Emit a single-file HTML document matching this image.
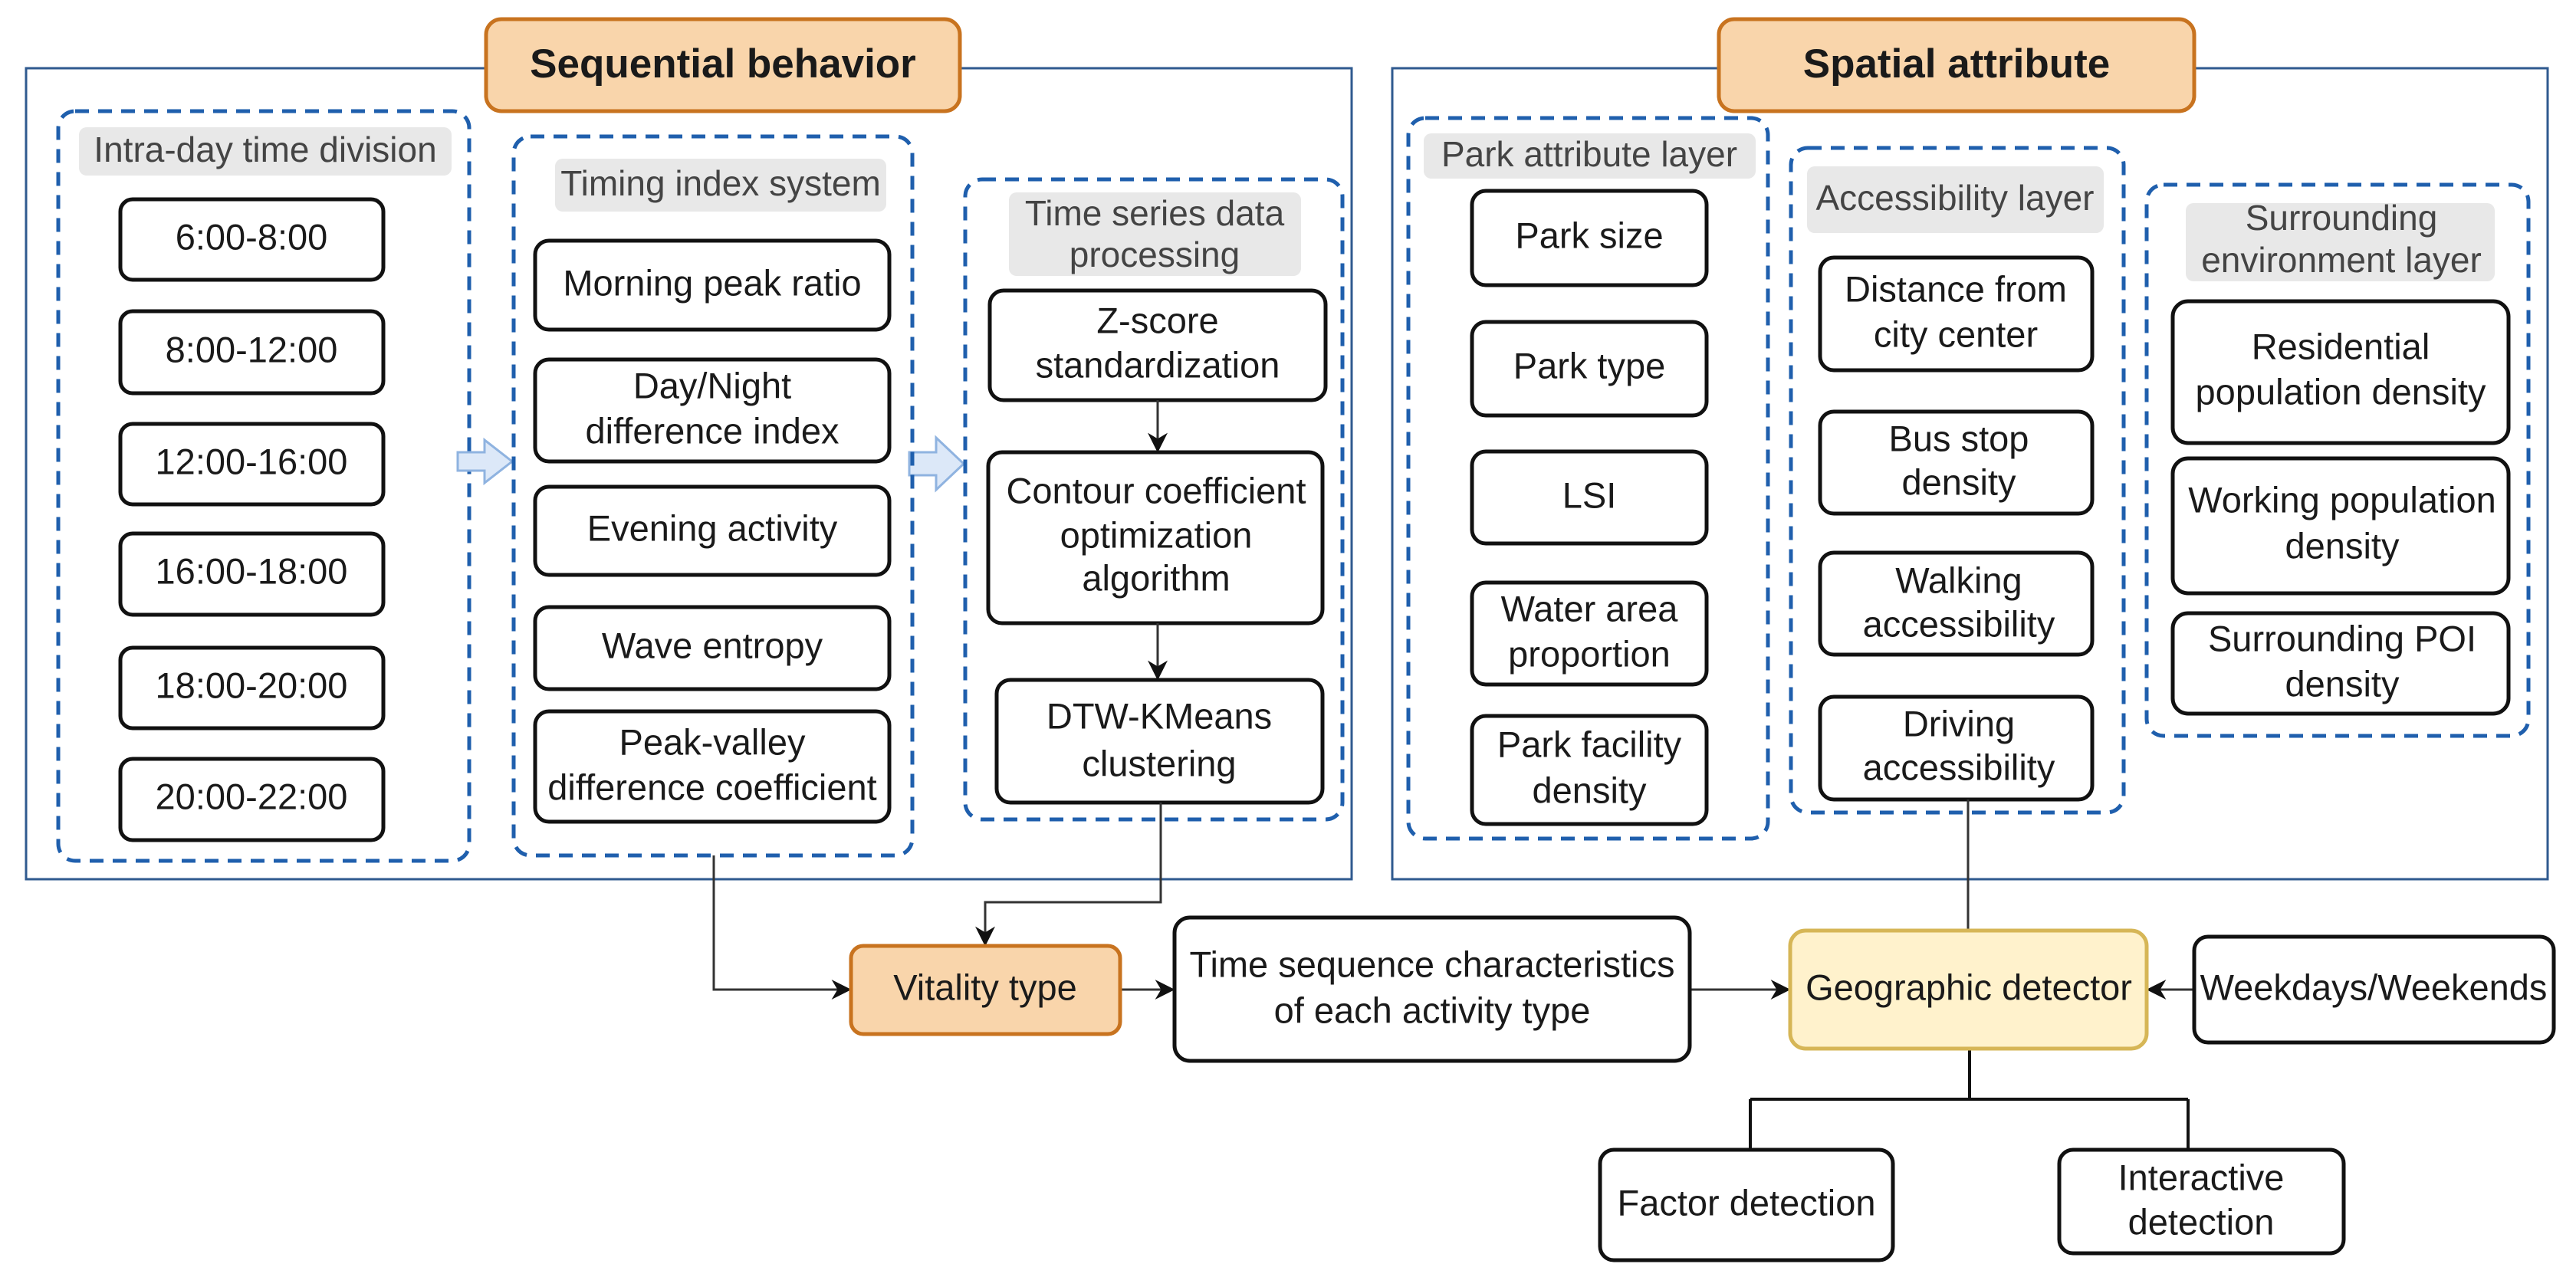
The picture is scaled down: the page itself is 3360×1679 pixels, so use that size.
<!DOCTYPE html>
<html><head><meta charset="utf-8"><style>
html,body{margin:0;padding:0;background:#fff}
svg{display:block}
text{font-family:"Liberation Sans",Arial,sans-serif;font-size:47px;fill:#1a1a1a;text-anchor:middle;dominant-baseline:middle}
.lab{fill:#444;font-size:46px}
.b{fill:#fff;stroke:#111;stroke-width:5}
.g{fill:none;stroke:#1f5fad;stroke-width:5;stroke-dasharray:18 12}
.gl{fill:#e8e8e8}
.ln{fill:none;stroke:#333;stroke-width:3}
</style></head><body>
<svg width="3360" height="1679" viewBox="0 0 3360 1679" xmlns="http://www.w3.org/2000/svg">
<defs>
<marker id="A" viewBox="0 0 10 10" refX="9" refY="5" markerWidth="26" markerHeight="26" orient="auto" markerUnits="userSpaceOnUse"><path d="M0,0 L10,5 L0,10 L3,5 z" fill="#111"/></marker></defs>
<!-- main boxes -->
<rect x="34" y="89" width="1729" height="1058" fill="none" stroke="#2f5a8f" stroke-width="3"/>
<rect x="1816" y="89" width="1507" height="1058" fill="none" stroke="#2f5a8f" stroke-width="3"/>
<rect x="634" y="25" width="618" height="120" rx="20" fill="#f9d5ab" stroke="#c8731f" stroke-width="5"/>
<text x="943" y="87" style="font-weight:bold;font-size:53px">Sequential behavior</text>
<rect x="2242" y="25" width="620" height="120" rx="20" fill="#f9d5ab" stroke="#c8731f" stroke-width="5"/>
<text x="2552" y="87" style="font-weight:bold;font-size:53px">Spatial attribute</text>
<!-- group 1 -->
<rect class="g" x="76" y="145" width="536" height="978" rx="22"/>
<rect class="gl" x="103" y="166" width="486" height="63" rx="10"/>
<text class="lab" x="346" y="199">Intra-day time division</text>
<rect class="b" x="157" y="260" width="343" height="105" rx="16"/><text x="328" y="313">6:00-8:00</text>
<rect class="b" x="157" y="406" width="343" height="107" rx="16"/><text x="328" y="460">8:00-12:00</text>
<rect class="b" x="157" y="553" width="343" height="105" rx="16"/><text x="328" y="606">12:00-16:00</text>
<rect class="b" x="157" y="696" width="343" height="106" rx="16"/><text x="328" y="749">16:00-18:00</text>
<rect class="b" x="157" y="845" width="343" height="105" rx="16"/><text x="328" y="898">18:00-20:00</text>
<rect class="b" x="157" y="990" width="343" height="106" rx="16"/><text x="328" y="1043">20:00-22:00</text>
<!-- hollow arrows -->
<path d="M597,590 h35 v-16 l36,28 l-36,28 v-16 h-35 z" fill="#dce8f8" stroke="#8fb3e0" stroke-width="3"/>
<path d="M1186,590 h35 v-19 l36,34 l-36,34 v-19 h-35 z" fill="#dce8f8" stroke="#8fb3e0" stroke-width="3"/>
<!-- group 2 -->
<rect class="g" x="670" y="178" width="520" height="938" rx="22"/>
<rect class="gl" x="724" y="207" width="432" height="69" rx="10"/>
<text class="lab" x="940" y="243">Timing index system</text>
<rect class="b" x="698" y="314" width="462" height="116" rx="18"/><text x="929" y="373">Morning peak ratio</text>
<rect class="b" x="698" y="469" width="462" height="133" rx="18"/><text x="929" y="507">Day/Night</text><text x="929" y="566">difference index</text>
<rect class="b" x="698" y="635" width="462" height="115" rx="18"/><text x="929" y="693">Evening activity</text>
<rect class="b" x="698" y="792" width="462" height="107" rx="18"/><text x="929" y="846">Wave entropy</text>
<rect class="b" x="698" y="928" width="462" height="144" rx="18"/><text x="929" y="972">Peak-valley</text><text x="929" y="1031">difference coefficient</text>
<!-- group 3 -->
<rect class="g" x="1259" y="234" width="492" height="835" rx="22"/>
<rect class="gl" x="1316" y="251" width="381" height="109" rx="10"/>
<text class="lab" x="1506" y="282">Time series  data</text><text class="lab" x="1506" y="336">processing</text>
<rect class="b" x="1291" y="379" width="438" height="143" rx="18"/><text x="1510" y="422">Z-score</text><text x="1510" y="480">standardization</text>
<rect class="b" x="1289" y="590" width="436" height="223" rx="18"/><text x="1508" y="644">Contour coefficient</text><text x="1508" y="702">optimization</text><text x="1508" y="758">algorithm</text>
<rect class="b" x="1300" y="887" width="425" height="160" rx="18"/><text x="1512" y="938">DTW-KMeans</text><text x="1512" y="1000">clustering</text>
<path class="ln" d="M1510,522 V588" marker-end="url(#A)"/>
<path class="ln" d="M1510,813 V885" marker-end="url(#A)"/>
<!-- group A -->
<rect class="g" x="1837" y="154" width="469" height="940" rx="22"/>
<rect class="gl" x="1857" y="174" width="433" height="59" rx="10"/>
<text class="lab" x="2073" y="205">Park  attribute layer</text>
<rect class="b" x="1920" y="249" width="306" height="123" rx="18"/><text x="2073" y="311">Park size</text>
<rect class="b" x="1920" y="420" width="306" height="122" rx="18"/><text x="2073" y="481">Park type</text>
<rect class="b" x="1920" y="589" width="306" height="120" rx="18"/><text x="2073" y="650">LSI</text>
<rect class="b" x="1920" y="760" width="306" height="133" rx="18"/><text x="2073" y="798">Water area</text><text x="2073" y="857">proportion</text>
<rect class="b" x="1920" y="934" width="306" height="141" rx="18"/><text x="2073" y="975">Park facility</text><text x="2073" y="1035">density</text>
<!-- group B -->
<rect class="g" x="2336" y="193" width="434" height="867" rx="22"/>
<rect class="gl" x="2357" y="217" width="387" height="87" rx="10"/>
<text class="lab" x="2550" y="262">Accessibility layer</text>
<rect class="b" x="2374" y="336" width="355" height="147" rx="18"/><text x="2551" y="381">Distance from</text><text x="2551" y="440">city center</text>
<rect class="b" x="2374" y="537" width="355" height="133" rx="18"/><text x="2555" y="576">Bus stop</text><text x="2555" y="633">density</text>
<rect class="b" x="2374" y="721" width="355" height="133" rx="18"/><text x="2555" y="761">Walking</text><text x="2555" y="818">accessibility</text>
<rect class="b" x="2374" y="909" width="355" height="134" rx="18"/><text x="2555" y="948">Driving</text><text x="2555" y="1005">accessibility</text>
<!-- group C -->
<rect class="g" x="2800" y="241" width="498" height="719" rx="22"/>
<rect class="gl" x="2851" y="265" width="403" height="102" rx="10"/>
<text class="lab" x="3054" y="288">Surrounding</text><text class="lab" x="3054" y="343">environment layer</text>
<rect class="b" x="2834" y="393" width="438" height="185" rx="20"/><text x="3053" y="456">Residential</text><text x="3053" y="515">population density</text>
<rect class="b" x="2834" y="598" width="438" height="176" rx="20"/><text x="3055" y="656">Working population</text><text x="3055" y="716">density</text>
<rect class="b" x="2834" y="800" width="438" height="131" rx="20"/><text x="3055" y="837">Surrounding POI</text><text x="3055" y="896">density</text>
<!-- bottom connectors -->
<path class="ln" d="M931,1116 V1291 H1108" marker-end="url(#A)"/>
<path class="ln" d="M1514,1047 V1177 H1285 V1232" marker-end="url(#A)"/>
<path class="ln" d="M1461,1291 H1530" marker-end="url(#A)"/>
<path class="ln" d="M2204,1291 H2333" marker-end="url(#A)"/>
<path class="ln" d="M2862,1291 H2802" marker-end="url(#A)"/>
<path class="ln" d="M2567,1043 V1214"/>
<path d="M2569,1368 V1434 M2283,1434 H2854 M2283,1434 V1500 M2854,1434 V1500" fill="none" stroke="#111" stroke-width="4"/>
<!-- bottom boxes -->
<rect x="1110" y="1234" width="351" height="115" rx="16" fill="#f9d5ab" stroke="#c8731f" stroke-width="5"/><text x="1285" y="1292">Vitality type</text>
<rect class="b" x="1532" y="1197" width="672" height="187" rx="20"/><text x="1868" y="1262">Time sequence characteristics</text><text x="1868" y="1322">of each activity type</text>
<rect x="2335" y="1214" width="465" height="154" rx="20" fill="#fff2cc" stroke="#d6b656" stroke-width="5"/><text x="2568" y="1292">Geographic detector</text>
<rect class="b" x="2862" y="1222" width="469" height="138" rx="18"/><text x="3096" y="1292">Weekdays/Weekends</text>
<rect class="b" x="2087" y="1500" width="382" height="144" rx="18"/><text x="2278" y="1573">Factor detection</text>
<rect class="b" x="2686" y="1500" width="371" height="135" rx="18"/><text x="2871" y="1540">Interactive</text><text x="2871" y="1598">detection</text>
</svg>
</body></html>
